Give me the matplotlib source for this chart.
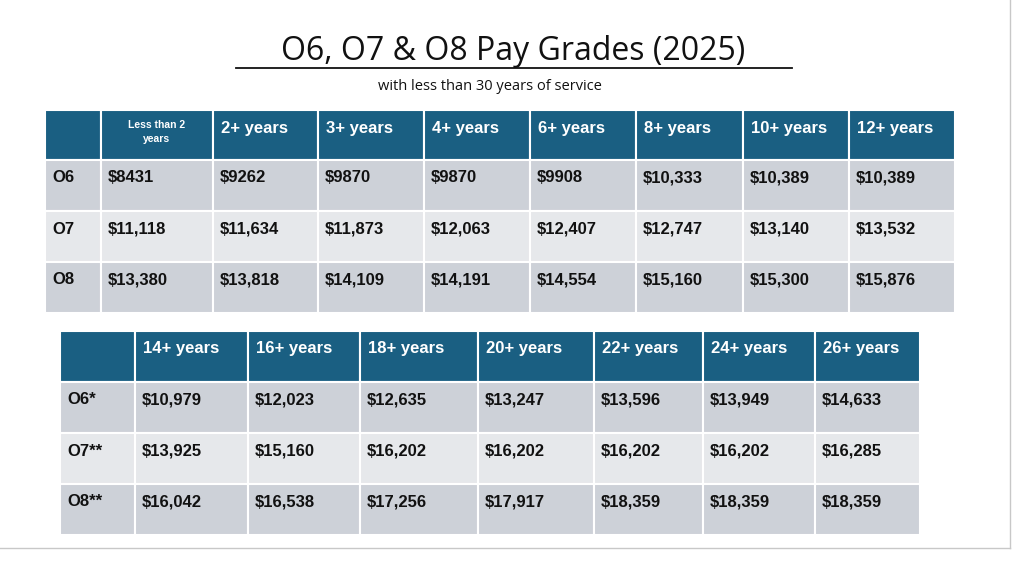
import matplotlib
matplotlib.use("Agg")
import matplotlib.pyplot as plt
from matplotlib.patches import Rectangle

plt.rcParams['font.family'] = ['Liberation Sans', 'DejaVu Sans']

grades1 = ["O6", "O7", "O8"]
headers1 = ["Less than 2\nyears", "2+ years", "3+ years", "4+ years", "6+ years", "8+ years", "10+ years", "12+ years"]
o6_a = ["$8431", "$9262", "$9870", "$9870", "$9908", "$10,333", "$10,389", "$10,389"]
o7_a = ["$11,118", "$11,634", "$11,873", "$12,063", "$12,407", "$12,747", "$13,140", "$13,532"]
o8_a = ["$13,380", "$13,818", "$14,109", "$14,191", "$14,554", "$15,160", "$15,300", "$15,876"]

grades2 = ["O6*", "O7**", "O8**"]
headers2 = ["14+ years", "16+ years", "18+ years", "20+ years", "22+ years", "24+ years", "26+ years"]
o6_b = ["$10,979", "$12,023", "$12,635", "$13,247", "$13,596", "$13,949", "$14,633"]
o7_b = ["$13,925", "$15,160", "$16,202", "$16,202", "$16,202", "$16,202", "$16,285"]
o8_b = ["$16,042", "$16,538", "$17,256", "$17,917", "$18,359", "$18,359", "$18,359"]

HEAD = "#1a5f82"
ROWC = ["#cdd1d8", "#e6e8eb", "#cdd1d8"]

fig = plt.figure(figsize=(10.24, 5.62), dpi=100)
ax = fig.add_axes([0, 0, 1, 1])
ax.set_xlim(0, 1024)
ax.set_ylim(562, 0)
ax.axis("off")

# page edges
ax.plot([1010, 1010], [0, 548], color="#c8c8c8", lw=1)
ax.plot([0, 1010], [548, 548], color="#c8c8c8", lw=1)

ax.text(513, 52, "O6, O7 & O8 Pay Grades (2025)", ha="center", va="center", fontsize=23,
        family=["Open Sans", "DejaVu Sans"], color="#111111")
ax.plot([236, 792], [68, 68], color="#111111", lw=1.3)
ax.text(490, 87, "with less than 30 years of service", ha="center", va="center", fontsize=10.5,
        family=["Open Sans", "DejaVu Sans"], color="#111111")

def table(xs, y0, hh, rh, headers, grades, rows):
    for j in range(len(xs) - 1):
        ax.add_patch(Rectangle((xs[j], y0), xs[j+1]-xs[j], hh, fc=HEAD, ec="white", lw=1.5))
        if j > 0:
            h = headers[j-1]
            small = "\n" in h
            ax.text((xs[j]+xs[j+1])/2 if small else xs[j]+8, y0 + (22 if small else 18), h,
                    ha="center" if small else "left", va="center", color="white",
                    fontsize=7.5 if small else 12, fontweight="bold", linespacing=1.5)
    for i, (g, vals) in enumerate(zip(grades, rows)):
        ty = y0 + hh + i*rh
        for j in range(len(xs) - 1):
            ax.add_patch(Rectangle((xs[j], ty), xs[j+1]-xs[j], rh, fc=ROWC[i], ec="white", lw=1.5))
            txt = g if j == 0 else vals[j-1]
            ax.text(xs[j]+7, ty+18, txt, ha="left", va="center", fontsize=12,
                    fontweight="bold", color="#111111")

table([45, 101, 213, 318, 424, 530, 636, 743, 849, 955], 110, 50, 51,
      headers1, grades1, [o6_a, o7_a, o8_a])
table([60, 135, 248, 360, 478, 594, 703, 815, 920], 331, 51, 51,
      headers2, grades2, [o6_b, o7_b, o8_b])

fig.savefig("out.png", dpi=100, facecolor="white")
